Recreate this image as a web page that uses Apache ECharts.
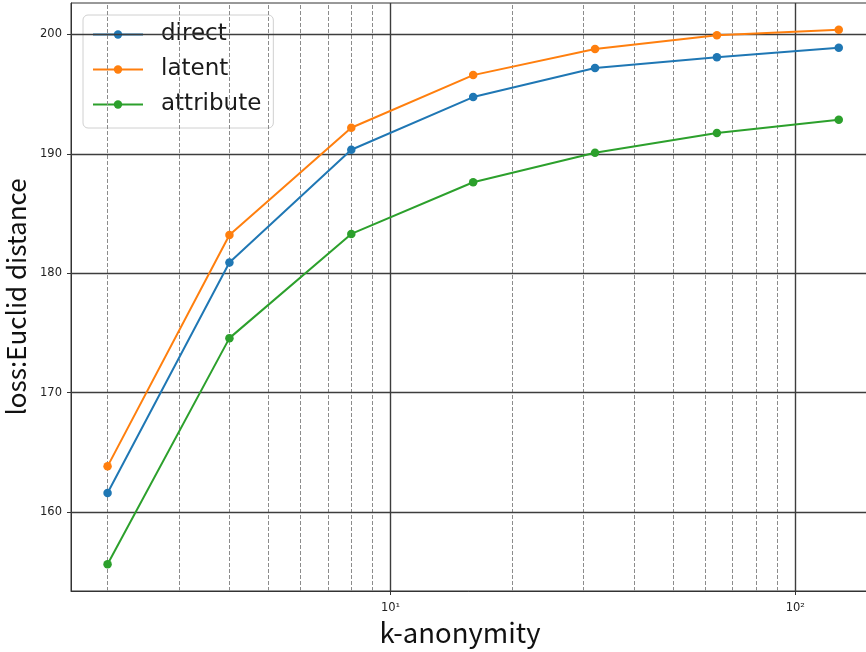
<!DOCTYPE html>
<html>
<head>
<meta charset="utf-8">
<script src="https://cdn.jsdelivr.net/npm/echarts@6/dist/echarts.min.js"></script>
<style>
html,body{margin:0;padding:0;background:#fff;}
#chart{width:866px;height:652px;}
</style>
</head>
<body>
<div id="chart"></div>
<script>
const kValues = [2, 4, 8, 16, 32, 64, 128];
const directLoss = [161.59, 180.89, 190.34, 194.75, 197.18, 198.08, 198.88];
const latentLoss = [163.82, 183.20, 192.18, 196.59, 198.77, 199.92, 200.39];
const attributeLoss = [155.62, 174.56, 183.29, 187.62, 190.09, 191.74, 192.85];
const seriesNames = ['direct', 'latent', 'attribute'];
const xMajorTicks = [10, 100];
const xTickLabels = ['10\u00b9', '10\u00b2'];
const xMinorGrid = [2, 3, 4, 5, 6, 7, 8, 9, 20, 30, 40, 50, 60, 70, 80, 90];
const yTicks = [160, 170, 180, 190, 200];

const colors = ['#1f77b4', '#ff7f0e', '#2ca02c'];
const pairs = (ys) => kValues.map((k, i) => [k, ys[i]]);

const chart = echarts.init(document.getElementById('chart'), null, {renderer: 'canvas'});

const gridLines = [];
xMinorGrid.forEach(v => gridLines.push({xAxis: v, lineStyle: {color: '#8c8c8c', width: 1, type: [4, 2]}}));
xMajorTicks.forEach(v => gridLines.push({xAxis: v, lineStyle: {color: '#3d3d3d', width: 1.4, type: 'solid'}}));
yTicks.forEach(v => gridLines.push({yAxis: v, lineStyle: {color: '#3d3d3d', width: 1.4, type: 'solid'}}));

const mkSeries = (name, ys, color) => ({
  name: name,
  type: 'line',
  data: pairs(ys),
  z: 5,
  symbol: 'circle',
  symbolSize: 8.5,
  showSymbol: true,
  lineStyle: {color: color, width: 2},
  itemStyle: {color: color},
  emphasis: {disabled: true}
});

chart.setOption({
  animation: false,
  backgroundColor: '#fff',
  grid: {
    left: 71, top: 3, right: -9, bottom: 61,
    show: true, borderColor: '#333', borderWidth: 1,
    outerBoundsMode: 'none', containLabel: false
  },
  legend: {
    data: seriesNames,
    orient: 'vertical',
    left: 83, top: 15,
    padding: [7, 12, 11, 9],
    itemWidth: 50, itemHeight: 10.5, itemGap: 10,
    backgroundColor: 'rgba(255,255,255,0.85)',
    borderColor: '#d0d0d0', borderWidth: 1, borderRadius: 5,
    textStyle: {
      fontFamily: 'DejaVu Sans', fontSize: 23, lineHeight: 23,
      color: '#1a1a1a', padding: [2, 0, 0, 13]
    },
    selectedMode: false
  },
  xAxis: {
    type: 'log',
    logBase: 10,
    min: 1.6245,
    max: 157.3,
    name: 'k-anonymity',
    nameLocation: 'middle',
    nameGap: 27,
    nameTextStyle: {fontFamily: 'Noto Sans CJK JP', fontSize: 27.5, color: '#111', padding: [0, 26, 0, 0]},
    axisLine: {show: true, lineStyle: {color: '#333', width: 1}},
    axisTick: {show: true, length: 4, lineStyle: {color: '#333'}, customValues: xMajorTicks},
    axisLabel: {
      show: true, margin: 11, fontFamily: 'DejaVu Sans', fontSize: 11.5, color: '#222',
      customValues: xMajorTicks,
      formatter: (v) => { const i = xMajorTicks.indexOf(Math.round(v)); return i >= 0 ? xTickLabels[i] : ''; }
    },
    splitLine: {show: false},
    minorTick: {show: false},
    minorSplitLine: {show: false}
  },
  yAxis: {
    type: 'value',
    min: 153.38,
    max: 202.63,
    name: 'loss:Euclid distance',
    nameLocation: 'middle',
    nameGap: 40,
    nameRotate: 90,
    nameTextStyle: {fontFamily: 'Noto Sans CJK JP', fontSize: 26, color: '#111'},
    axisLine: {show: true, lineStyle: {color: '#333', width: 1}},
    axisTick: {show: true, length: 4, lineStyle: {color: '#333'}, customValues: yTicks},
    axisLabel: {
      show: true, margin: 9, fontFamily: 'DejaVu Sans', fontSize: 11.5, color: '#222',
      customValues: yTicks
    },
    splitLine: {show: false}
  },
  series: [
    {
      name: '__grid',
      type: 'line',
      data: pairs(directLoss),
      z: 1,
      silent: true,
      showSymbol: false,
      symbol: 'none',
      lineStyle: {opacity: 0},
      tooltip: {show: false},
      markLine: {
        silent: true,
        symbol: ['none', 'none'],
        label: {show: false},
        animation: false,
        emphasis: {disabled: true},
        data: gridLines
      }
    },
    mkSeries(seriesNames[0], directLoss, colors[0]),
    mkSeries(seriesNames[1], latentLoss, colors[1]),
    mkSeries(seriesNames[2], attributeLoss, colors[2])
  ]
});
</script>
</body>
</html>
